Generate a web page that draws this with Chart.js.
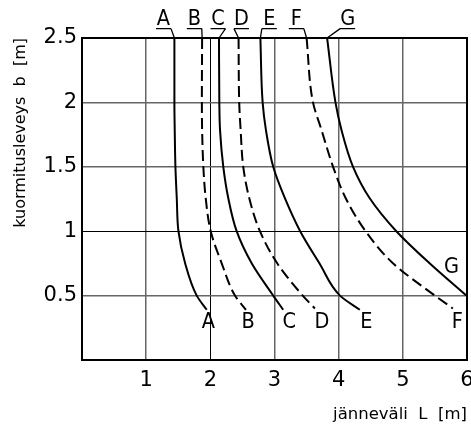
<!DOCTYPE html>
<html>
<head>
<meta charset="utf-8">
<script src="https://cdn.jsdelivr.net/npm/chart.js@4/dist/chart.umd.min.js"></script>
<style>
html,body{margin:0;padding:0;background:#fff;}
#wrap{width:471px;height:425px;}
</style>
</head>
<body>
<div id="wrap"><canvas id="c" width="471" height="425"></canvas></div>
<script>
// ---- data (span L [m] vs load width b [m]) ----
const curveNames = ['A', 'B', 'C', 'D', 'E', 'F', 'G'];
const dashedCurves = ['B', 'D', 'F'];

const spanA  = [1.44, 1.44, 1.445, 1.456, 1.477, 1.503, 1.607, 1.788, 1.944];
const widthA = [2.5,  2.0,  1.787, 1.5,   1.256, 1.0,   0.751, 0.5,   0.39];

const spanB  = [1.872, 1.868, 1.872, 1.891, 1.928, 2.006, 2.177, 2.384, 2.555];
const widthB = [2.5,   2.0,   1.787, 1.5,   1.256, 1.0,   0.751, 0.5,   0.39];

const spanC  = [2.135, 2.14, 2.151, 2.202, 2.28,  2.41, 2.644, 2.98, 3.135];
const widthC = [2.5,   2.0,  1.787, 1.5,   1.256, 1.0,  0.751, 0.5,  0.39];

const spanD  = [2.44, 2.45, 2.472, 2.513, 2.607, 2.773, 3.042, 3.44, 3.63];
const widthD = [2.5,  2.0,  1.787, 1.5,   1.256, 1.0,   0.751, 0.5,  0.40];

const spanE  = [2.78, 2.815, 2.866, 2.98, 3.162, 3.40, 3.70,  4.02, 4.33];
const widthE = [2.5,  2.0,   1.787, 1.5,  1.256, 1.0,  0.751, 0.5,  0.39];

const spanF  = [3.50, 3.60, 3.732, 3.913, 4.11,  4.42, 4.846, 5.50, 5.78];
const widthF = [2.5,  2.0,  1.787, 1.5,   1.256, 1.0,  0.751, 0.5,  0.40];

const spanG  = [3.82, 3.95, 4.043, 4.224, 4.484, 4.899, 5.417, 5.99];
const widthG = [2.5,  2.0,  1.787, 1.5,   1.256, 1.0,   0.751, 0.5];

const curveSpans  = [spanA, spanB, spanC, spanD, spanE, spanF, spanG];
const curveWidths = [widthA, widthB, widthC, widthD, widthE, widthF, widthG];

// tick values
const xTickValues = [1, 2, 3, 4, 5, 6];
const yTickValues = [0.5, 1, 1.5, 2, 2.5];
const darkXGrid = [2];
const darkYGrid = [1];

// label anchors (data coordinates)
const topLabelSpan   = [1.27, 1.75, 2.12, 2.485, 2.92, 3.34, 4.14];
const topLabelWidth  = 2.60;
const endLabelSpan   = [1.97, 2.59, 3.23, 3.74, 4.43, 5.85, 5.76];
const endLabelWidth  = [0.25, 0.25, 0.25, 0.25, 0.25, 0.25, 0.676];

// ---- build datasets ----
const datasets = curveNames.map((name, i) => ({
  label: name,
  indexAxis: 'y',
  data: curveSpans[i].map((L, k) => ({x: L, y: curveWidths[i][k]})),
  showLine: true,
  borderColor: '#000',
  borderWidth: 2,
  borderDash: dashedCurves.includes(name) ? [11, 5] : [],
  pointRadius: 0,
  cubicInterpolationMode: 'monotone',
  fill: false
}));

function drawCondensed(ctx, text, x, y) {
  ctx.save();
  ctx.translate(x, y);
  ctx.scale(0.88, 1);
  ctx.fillText(text, 0, 0);
  ctx.restore();
}

const annotPlugin = {
  id: 'annot',
  afterDatasetsDraw(chart) {
    const {ctx, chartArea: a, scales: {x, y}} = chart;
    ctx.save();
    ctx.strokeStyle = '#000';
    ctx.lineWidth = 2;
    ctx.strokeRect(a.left, a.top, a.right - a.left, a.bottom - a.top);

    ctx.fillStyle = '#000';
    ctx.font = '22px "DejaVu Sans"';
    ctx.textAlign = 'center';
    ctx.textBaseline = 'alphabetic';
    const half = 7.5;
    curveNames.forEach((n, i) => {
      drawCondensed(ctx, n, x.getPixelForValue(endLabelSpan[i]), y.getPixelForValue(endLabelWidth[i]));
      const tx = x.getPixelForValue(topLabelSpan[i]);
      const ty = y.getPixelForValue(topLabelWidth);
      drawCondensed(ctx, n, tx, ty);
      const uy = ty + 3.5;
      const cx = x.getPixelForValue(curveSpans[i][0]);
      const cy = y.getPixelForValue(curveWidths[i][0]);
      const ex = Math.abs(cx - (tx - half)) < Math.abs(cx - (tx + half)) ? tx - half : tx + half;
      ctx.lineWidth = 1.3;
      ctx.beginPath();
      ctx.moveTo(tx - half, uy);
      ctx.lineTo(tx + half, uy);
      ctx.moveTo(ex, uy);
      ctx.lineTo(cx, cy);
      ctx.stroke();
    });
    ctx.restore();
  }
};

const tickFont = {family: '"DejaVu Sans"', size: 21};
const titleFont = {family: '"DejaVu Sans"', size: 16};

new Chart(document.getElementById('c'), {
  type: 'scatter',
  data: {datasets},
  plugins: [annotPlugin],
  options: {
    responsive: false,
    animation: false,
    devicePixelRatio: 1,
    layout: {padding: {top: 38, right: 4, left: 0, bottom: 0}},
    plugins: {legend: {display: false}, tooltip: {enabled: false}},
    scales: {
      x: {
        type: 'linear', min: 0, max: 6,
        afterFit: s => { s.height = 65; s.paddingLeft = 0; s.paddingRight = 0; },
        afterBuildTicks: s => { s.ticks = [{value: 0}].concat(xTickValues.map(v => ({value: v}))); },
        ticks: {font: tickFont, color: '#000', padding: 8, maxRotation: 0, autoSkip: false,
                callback: v => (xTickValues.includes(v) ? String(v) : '')},
        grid: {
          color: c => (c.tick && darkXGrid.includes(c.tick.value) ? '#000' : '#666'),
          lineWidth: c => (c.tick && darkXGrid.includes(c.tick.value) ? 1 : 1.5),
          drawTicks: false
        },
        border: {display: false},
        title: {display: true, text: 'jänneväli  L  [m]', align: 'end', color: '#000',
                font: {family: '"DejaVu Sans"', size: 16.5}, padding: {top: 0, bottom: 0}}
      },
      y: {
        type: 'linear', min: 0, max: 2.5,
        afterFit: s => { s.width = 82; s.paddingTop = 0; s.paddingBottom = 0; },
        afterBuildTicks: s => { s.ticks = [{value: 0}].concat(yTickValues.map(v => ({value: v}))); },
        ticks: {font: tickFont, color: '#000', padding: 5, autoSkip: false,
                callback: v => (yTickValues.includes(v) ? String(v) : '')},
        grid: {
          color: c => (c.tick && darkYGrid.includes(c.tick.value) ? '#000' : '#666'),
          lineWidth: c => (c.tick && darkYGrid.includes(c.tick.value) ? 1 : 1.5),
          drawTicks: false
        },
        border: {display: false},
        title: {display: true, text: 'kuormitusleveys  b  [m]', align: 'end', color: '#000',
                font: titleFont, padding: {top: 11, bottom: 0}}
      }
    }
  }
});
</script>
</body>
</html>
